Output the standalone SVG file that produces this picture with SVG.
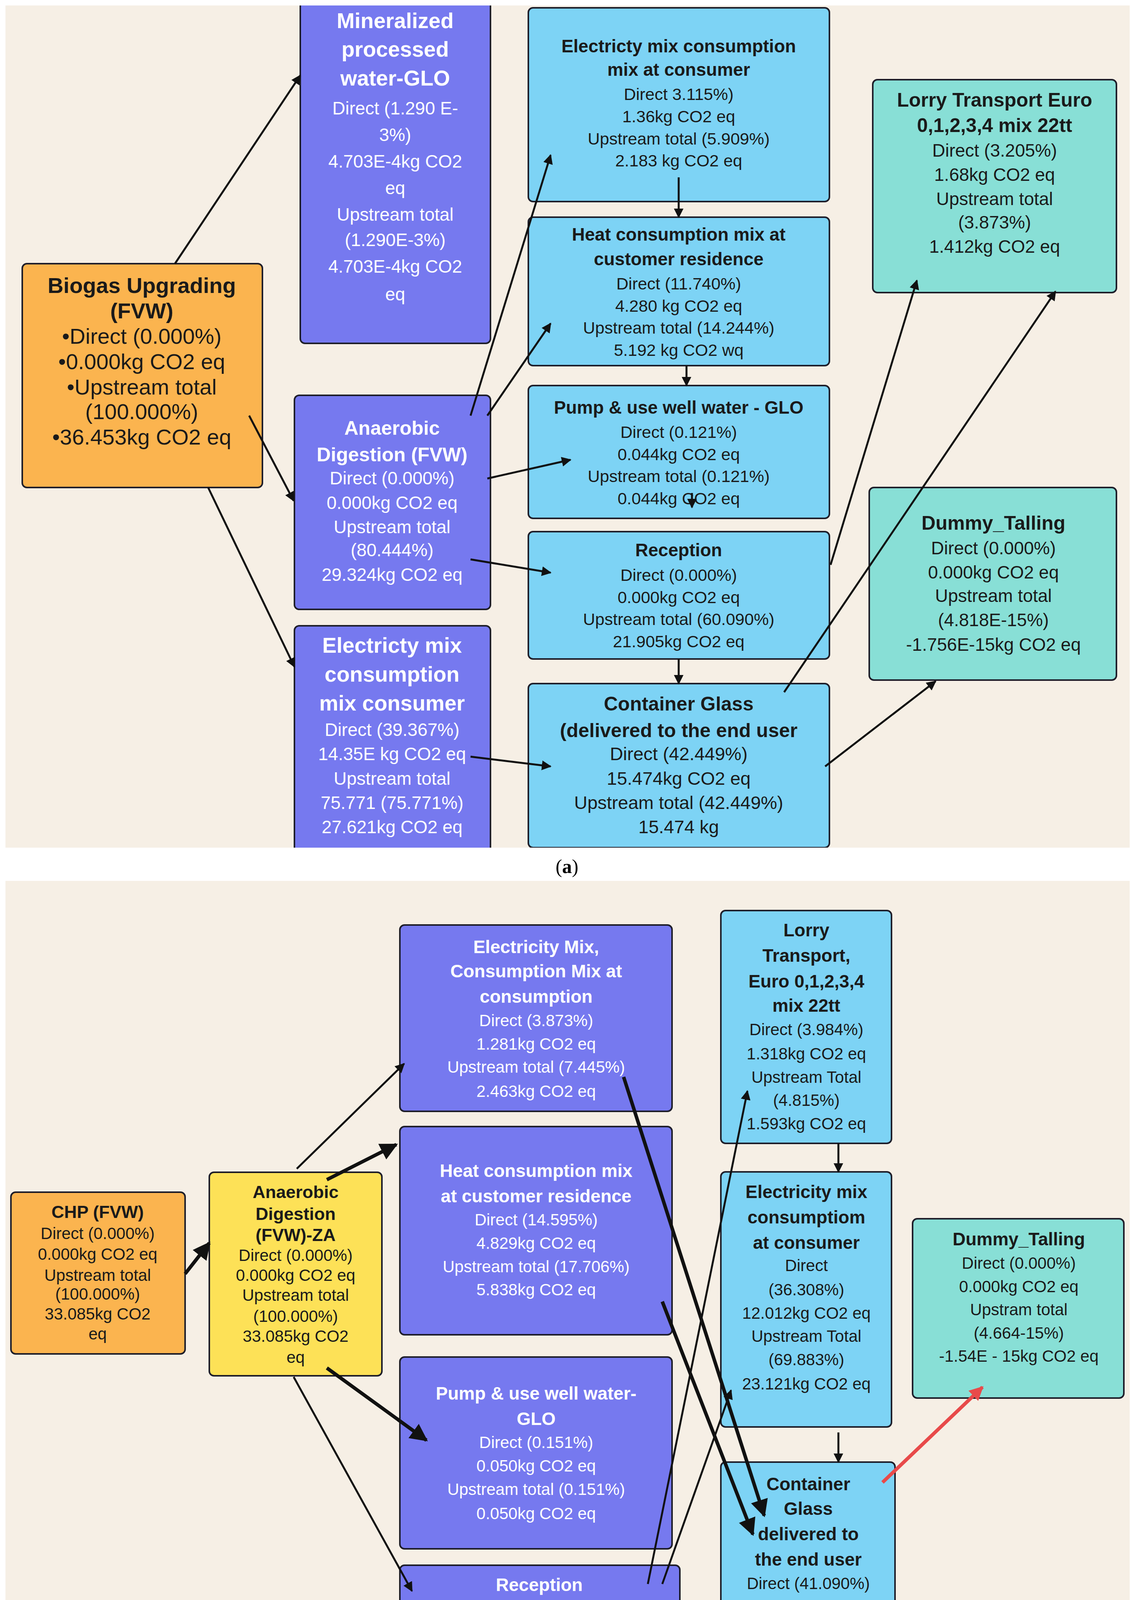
<svg xmlns="http://www.w3.org/2000/svg" width="2904" height="4454" viewBox="0 0 2904 4454">
<style>
.bg{fill:#f6efe5}
.bx{stroke:#1e1e2a;stroke-width:4}
.pu{fill:#7679ef}.bl{fill:#7dd3f5}.te{fill:#88dfd6}.or{fill:#fbb44f}.ye{fill:#fde157}
text{font-family:"Liberation Sans",Arial,sans-serif;text-anchor:middle}
.w{fill:#ffffff}.d{fill:#1a1a1a}
.b{font-weight:bold}
.a1{font-size:46px}.a2{font-size:43px}.a3{font-size:55px}.bb{font-size:42px}
.c{stroke:#111;stroke-width:5;fill:none;marker-end:url(#ah)}
.t{stroke:#111;stroke-width:9;fill:none;marker-end:url(#ah)}
.r{stroke:#e84a4a;stroke-width:9;fill:none;marker-end:url(#ahr)}
.cap{font-family:"Liberation Serif",serif;font-size:50px}
</style>
<defs>
<marker id="ah" viewBox="0 0 10 10" refX="9" refY="5" markerWidth="5" markerHeight="5" orient="auto"><path d="M0,0 L10,5 L0,10 z" fill="#111"/></marker>
<marker id="ahr" viewBox="0 0 10 10" refX="9" refY="5" markerWidth="4" markerHeight="4" orient="auto"><path d="M0,0 L10,5 L0,10 z" fill="#e84a4a"/></marker>
<clipPath id="pa"><rect x="14" y="14" width="2879" height="2156"/></clipPath>
<clipPath id="pb"><rect x="14" y="2255" width="2879" height="2099"/></clipPath>
</defs>
<rect width="2904" height="4454" fill="#fff"/>
<rect class="bg" x="14" y="14" width="2879" height="2156"/>
<rect class="bg" x="14" y="2255" width="2879" height="2099"/>
<text class="cap" x="1452" y="2235">(<tspan font-weight="bold">a</tspan>)</text>
<text class="cap" x="1452" y="4418">(<tspan font-weight="bold">b</tspan>)</text>

<g clip-path="url(#pa)">
<g id="a-mineral"><rect class="bx pu" x="769" y="0" width="487" height="879" rx="12"/>
<text class="w a1"><tspan class="b a3" x="1012" y="72">Mineralized</tspan><tspan class="b a3" x="1012" y="145">processed</tspan><tspan class="b a3" x="1012" y="219">water-GLO</tspan><tspan x="1012" y="293">Direct (1.290 E-</tspan><tspan x="1012" y="361">3%)</tspan><tspan x="1012" y="429">4.703E-4kg CO2</tspan><tspan x="1012" y="497">eq</tspan><tspan x="1012" y="565">Upstream total</tspan><tspan x="1012" y="630">(1.290E-3%)</tspan><tspan x="1012" y="698">4.703E-4kg CO2</tspan><tspan x="1012" y="769">eq</tspan></text></g>
<g id="a-biogas"><rect class="bx or" x="57" y="675" width="615" height="573" rx="12"/>
<text class="d" font-size="56"><tspan class="b" x="363" y="750">Biogas Upgrading</tspan><tspan class="b" x="363" y="815">(FVW)</tspan><tspan x="363" y="880">•Direct (0.000%)</tspan><tspan x="363" y="945">•0.000kg CO2 eq</tspan><tspan x="363" y="1010">•Upstream total</tspan><tspan x="363" y="1073">(100.000%)</tspan><tspan x="363" y="1138">•36.453kg CO2 eq</tspan></text></g>
<g id="a-anaerobic"><rect class="bx pu" x="754" y="1012" width="502" height="548" rx="12"/>
<text class="w a1"><tspan class="b" font-size="50" x="1004" y="1113">Anaerobic</tspan><tspan class="b" font-size="50" x="1004" y="1181">Digestion (FVW)</tspan><tspan x="1004" y="1240">Direct (0.000%)</tspan><tspan x="1004" y="1303">0.000kg CO2 eq</tspan><tspan x="1004" y="1365">Upstream total</tspan><tspan x="1004" y="1424">(80.444%)</tspan><tspan x="1004" y="1487">29.324kg CO2 eq</tspan></text></g>
<g id="a-elecmix"><rect class="bx pu" x="754" y="1602" width="502" height="620" rx="12"/>
<text class="w a1"><tspan class="b a3" x="1004" y="1671">Electricty mix</tspan><tspan class="b a3" x="1004" y="1745">consumption</tspan><tspan class="b a3" x="1004" y="1819">mix consumer</tspan><tspan x="1004" y="1884">Direct (39.367%)</tspan><tspan x="1004" y="1946">14.35E kg CO2 eq</tspan><tspan x="1004" y="2009">Upstream total</tspan><tspan x="1004" y="2071">75.771 (75.771%)</tspan><tspan x="1004" y="2133">27.621kg CO2 eq</tspan></text></g>
<g id="a-electop"><rect class="bx bl" x="1353" y="20" width="771" height="496" rx="12"/>
<text class="d a2"><tspan class="b" font-size="46" x="1738" y="134">Electricty mix consumption</tspan><tspan class="b" font-size="46" x="1738" y="194">mix at consumer</tspan><tspan x="1738" y="256">Direct 3.115%)</tspan><tspan x="1738" y="313">1.36kg CO2 eq</tspan><tspan x="1738" y="370">Upstream total (5.909%)</tspan><tspan x="1738" y="426">2.183 kg CO2 eq</tspan></text></g>
<g id="a-heat"><rect class="bx bl" x="1353" y="556" width="771" height="380" rx="12"/>
<text class="d a2"><tspan class="b" font-size="46" x="1738" y="616">Heat consumption mix at</tspan><tspan class="b" font-size="46" x="1738" y="679">customer residence</tspan><tspan x="1738" y="741">Direct (11.740%)</tspan><tspan x="1738" y="798">4.280 kg CO2 eq</tspan><tspan x="1738" y="854">Upstream total (14.244%)</tspan><tspan x="1738" y="911">5.192 kg CO2 wq</tspan></text></g>
<g id="a-pump"><rect class="bx bl" x="1353" y="987" width="771" height="340" rx="12"/>
<text class="d a2"><tspan class="b" font-size="46" x="1738" y="1059">Pump &amp; use well water - GLO</tspan><tspan x="1738" y="1121">Direct (0.121%)</tspan><tspan x="1738" y="1178">0.044kg CO2 eq</tspan><tspan x="1738" y="1234">Upstream total (0.121%)</tspan><tspan x="1738" y="1291">0.044kg CO2 eq</tspan></text></g>
<g id="a-reception"><rect class="bx bl" x="1353" y="1361" width="771" height="326" rx="12"/>
<text class="d a2"><tspan class="b" font-size="46" x="1738" y="1424">Reception</tspan><tspan x="1738" y="1487">Direct (0.000%)</tspan><tspan x="1738" y="1544">0.000kg CO2 eq</tspan><tspan x="1738" y="1600">Upstream total (60.090%)</tspan><tspan x="1738" y="1657">21.905kg CO2 eq</tspan></text></g>
<g id="a-container"><rect class="bx bl" x="1353" y="1750" width="771" height="420" rx="12"/>
<text class="d" font-size="47"><tspan class="b" font-size="50" x="1738" y="1819">Container Glass</tspan><tspan class="b" font-size="50" x="1738" y="1887">(delivered to the end user</tspan><tspan x="1738" y="1946">Direct (42.449%)</tspan><tspan x="1738" y="2009">15.474kg CO2 eq</tspan><tspan x="1738" y="2071">Upstream total (42.449%)</tspan><tspan x="1738" y="2133">15.474 kg</tspan></text></g>
<g id="a-lorry"><rect class="bx te" x="2235" y="204" width="624" height="545" rx="12"/>
<text class="d a1"><tspan class="b" font-size="50" x="2547" y="273">Lorry Transport Euro</tspan><tspan class="b" font-size="50" x="2547" y="338">0,1,2,3,4 mix 22tt</tspan><tspan x="2547" y="401">Direct (3.205%)</tspan><tspan x="2547" y="463">1.68kg CO2 eq</tspan><tspan x="2547" y="525">Upstream total</tspan><tspan x="2547" y="585">(3.873%)</tspan><tspan x="2547" y="647">1.412kg CO2 eq</tspan></text></g>
<g id="a-dummy"><rect class="bx te" x="2226" y="1248" width="633" height="493" rx="12"/>
<text class="d a1"><tspan class="b" font-size="50" x="2544" y="1356">Dummy_Talling</tspan><tspan x="2544" y="1419">Direct (0.000%)</tspan><tspan x="2544" y="1481">0.000kg CO2 eq</tspan><tspan x="2544" y="1541">Upstream total</tspan><tspan x="2544" y="1603">(4.818E-15%)</tspan><tspan x="2544" y="1666">-1.756E-15kg CO2 eq</tspan></text></g>
<g id="a-connectors">
<path class="c" d="M448,675 L769,193"/>
<path class="c" d="M638,1064 L752,1282"/>
<path class="c" d="M533,1248 L754,1707"/>
<path class="c" d="M1205,1064 L1410,397"/>
<path class="c" d="M1248,1064 L1410,828"/>
<path class="c" d="M1248,1225 L1461,1177"/>
<path class="c" d="M1205,1432 L1410,1466"/>
<path class="c" d="M1205,1937 L1410,1962"/>
<path class="c" d="M1738,454 L1738,556"/>
<path class="c" d="M1758,936 L1758,987"/>
<path class="c" d="M1772,1262 L1772,1299"/>
<path class="c" d="M1738,1687 L1738,1750"/>
<path class="c" d="M2127,1446 L2348,718"/>
<path class="c" d="M2008,1772 L2703,746"/>
<path class="c" d="M2113,1962 L2396,1744"/>
</g>
</g>

<g clip-path="url(#pb)">
<g id="b-chp"><rect class="bx or" x="28" y="3052" width="446" height="414" rx="12"/>
<text class="d bb"><tspan class="b" font-size="45" x="250" y="3118">CHP (FVW)</tspan><tspan x="250" y="3172">Direct (0.000%)</tspan><tspan x="250" y="3225">0.000kg CO2 eq</tspan><tspan x="250" y="3279">Upstream total</tspan><tspan x="250" y="3327">(100.000%)</tspan><tspan x="250" y="3378">33.085kg CO2</tspan><tspan x="250" y="3429">eq</tspan></text></g>
<g id="b-anaerobic"><rect class="bx ye" x="536" y="3001" width="442" height="521" rx="12"/>
<text class="d bb"><tspan class="b" font-size="45" x="757" y="3067">Anaerobic</tspan><tspan class="b" font-size="45" x="757" y="3123">Digestion</tspan><tspan class="b" font-size="45" x="757" y="3177">(FVW)-ZA</tspan><tspan x="757" y="3228">Direct (0.000%)</tspan><tspan x="757" y="3279">0.000kg CO2 eq</tspan><tspan x="757" y="3330">Upstream total</tspan><tspan x="757" y="3384">(100.000%)</tspan><tspan x="757" y="3435">33.085kg CO2</tspan><tspan x="757" y="3489">eq</tspan></text></g>
<g id="b-elecmix"><rect class="bx pu" x="1024" y="2368" width="697" height="477" rx="12"/>
<text class="w bb"><tspan class="b" font-size="46" x="1373" y="2440">Electricity Mix,</tspan><tspan class="b" font-size="46" x="1373" y="2502">Consumption Mix at</tspan><tspan class="b" font-size="46" x="1373" y="2567">consumption</tspan><tspan x="1373" y="2627">Direct (3.873%)</tspan><tspan x="1373" y="2687">1.281kg CO2 eq</tspan><tspan x="1373" y="2746">Upstream total (7.445%)</tspan><tspan x="1373" y="2808">2.463kg CO2 eq</tspan></text></g>
<g id="b-heat"><rect class="bx pu" x="1024" y="2884" width="697" height="533" rx="12"/>
<text class="w bb"><tspan class="b" font-size="46" x="1373" y="3013">Heat consumption mix</tspan><tspan class="b" font-size="46" x="1373" y="3078">at customer residence</tspan><tspan x="1373" y="3137">Direct (14.595%)</tspan><tspan x="1373" y="3197">4.829kg CO2 eq</tspan><tspan x="1373" y="3257">Upstream total (17.706%)</tspan><tspan x="1373" y="3316">5.838kg CO2 eq</tspan></text></g>
<g id="b-pump"><rect class="bx pu" x="1024" y="3474" width="697" height="491" rx="12"/>
<text class="w bb"><tspan class="b" font-size="46" x="1373" y="3583">Pump &amp; use well water-</tspan><tspan class="b" font-size="46" x="1373" y="3648">GLO</tspan><tspan x="1373" y="3707">Direct (0.151%)</tspan><tspan x="1373" y="3767">0.050kg CO2 eq</tspan><tspan x="1373" y="3827">Upstream total (0.151%)</tspan><tspan x="1373" y="3889">0.050kg CO2 eq</tspan></text></g>
<g id="b-reception"><rect class="bx pu" x="1024" y="4007" width="717" height="341" rx="12"/>
<text class="w bb"><tspan class="b" font-size="46" x="1381" y="4073">Reception</tspan><tspan x="1381" y="4133">Direct (0.000%)</tspan><tspan x="1381" y="4193">0.000kg CO2 eq</tspan><tspan x="1381" y="4252">Upstream total (74.698%)</tspan><tspan x="1381" y="4312">24.714kg CO2 eq</tspan></text></g>
<g id="b-lorry"><rect class="bx bl" x="1846" y="2331" width="437" height="596" rx="12"/>
<text class="d bb"><tspan class="b" font-size="46" x="2065" y="2397">Lorry</tspan><tspan class="b" font-size="46" x="2065" y="2462">Transport,</tspan><tspan class="b" font-size="46" x="2065" y="2528">Euro 0,1,2,3,4</tspan><tspan class="b" font-size="46" x="2065" y="2590">mix 22tt</tspan><tspan x="2065" y="2650">Direct (3.984%)</tspan><tspan x="2065" y="2712">1.318kg CO2 eq</tspan><tspan x="2065" y="2772">Upstream Total</tspan><tspan x="2065" y="2831">(4.815%)</tspan><tspan x="2065" y="2891">1.593kg CO2 eq</tspan></text></g>
<g id="b-elecconsumer"><rect class="bx bl" x="1846" y="3000" width="437" height="653" rx="12"/>
<text class="d bb"><tspan class="b" font-size="46" x="2065" y="3067">Electricity mix</tspan><tspan class="b" font-size="46" x="2065" y="3132">consumptiom</tspan><tspan class="b" font-size="46" x="2065" y="3197">at consumer</tspan><tspan x="2065" y="3254">Direct</tspan><tspan x="2065" y="3316">(36.308%)</tspan><tspan x="2065" y="3376">12.012kg CO2 eq</tspan><tspan x="2065" y="3435">Upstream Total</tspan><tspan x="2065" y="3495">(69.883%)</tspan><tspan x="2065" y="3557">23.121kg CO2 eq</tspan></text></g>
<g id="b-container"><rect class="bx bl" x="1846" y="3743" width="446" height="650" rx="12"/>
<text class="d bb"><tspan class="b" font-size="46" x="2070" y="3815">Container</tspan><tspan class="b" font-size="46" x="2070" y="3878">Glass</tspan><tspan class="b" font-size="46" x="2070" y="3943">delivered to</tspan><tspan class="b" font-size="46" x="2070" y="4008">the end user</tspan><tspan x="2070" y="4068">Direct (41.090%)</tspan><tspan x="2070" y="4130">13.595kg CO2 eq</tspan><tspan x="2070" y="4190">Upstream total</tspan><tspan x="2070" y="4249">(41.090%)</tspan><tspan x="2070" y="4309">13.595 kg CO2</tspan><tspan x="2070" y="4368">eq</tspan></text></g>
<g id="b-dummy"><rect class="bx te" x="2337" y="3120" width="541" height="459" rx="12"/>
<text class="d bb"><tspan class="b" font-size="46" x="2609" y="3188">Dummy_Talling</tspan><tspan x="2609" y="3248">Direct (0.000%)</tspan><tspan x="2609" y="3308">0.000kg CO2 eq</tspan><tspan x="2609" y="3367">Upstram total</tspan><tspan x="2609" y="3427">(4.664-15%)</tspan><tspan x="2609" y="3486">-1.54E - 15kg CO2 eq</tspan></text></g>
<g id="b-connectors">
<path class="t" d="M474,3261 L536,3182"/>
<path class="c" d="M760,2992 L1035,2723"/>
<path class="t" d="M837,3020 L1015,2930"/>
<path class="t" d="M837,3502 L1092,3687"/>
<path class="c" d="M752,3525 L1055,4073"/>
<path class="t" d="M1597,2757 L1957,3880"/>
<path class="t" d="M1696,3332 L1928,3928"/>
<path class="c" d="M1659,4055 L1914,2793"/>
<path class="c" d="M1696,4055 L1872,3559"/>
<path class="c" d="M2147,2927 L2147,3000"/>
<path class="c" d="M2147,3667 L2147,3743"/>
<path class="r" d="M2260,3795 L2516,3551"/>
</g>
</g>
</svg>
